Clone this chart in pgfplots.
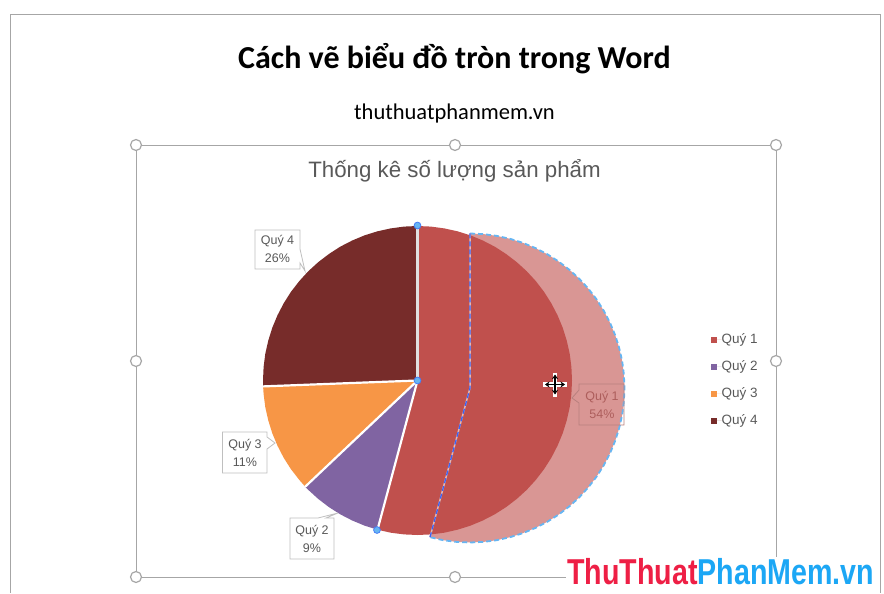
\documentclass[border=0pt]{standalone}
\usepackage{fontspec}
\setmainfont{Liberation Sans}
\newfontfamily\carlito{Carlito}
\usepackage{pgfplots}
\usepackage{pgfplotstable}
\pgfplotsset{compat=1.18}
\usetikzlibrary{arrows.meta}

\definecolor{qone}{HTML}{C0504D}
\definecolor{qtwo}{HTML}{8064A2}
\definecolor{qthree}{HTML}{F79646}
\definecolor{qfour}{HTML}{772C2A}
\definecolor{ghost}{HTML}{D99694}
\definecolor{dashblue}{HTML}{66B5F2}
\definecolor{framegray}{HTML}{A6A6A6}
\definecolor{boxline}{HTML}{BFBFBF}
\definecolor{txt}{HTML}{595959}

% slices in image pixels, y downwards
\pgfplotstableread{
x y
417.5 380.5
417.5 226.0
431.0 226.6
444.3 228.4
457.5 231.3
470.3 235.3
482.8 240.5
494.8 246.7
506.1 254.0
516.8 262.2
526.8 271.3
535.9 281.2
544.1 291.9
551.3 303.3
557.5 315.2
562.7 327.7
566.7 340.5
569.7 353.7
571.4 367.0
572.0 380.5
571.4 394.0
569.7 407.3
566.7 420.5
562.7 433.3
557.5 445.8
551.3 457.8
544.1 469.1
535.9 479.8
526.8 489.8
516.8 498.9
506.1 507.1
494.8 514.3
482.8 520.5
470.3 525.7
457.5 529.7
444.3 532.7
431.0 534.4
417.5 535.0
404.0 534.4
390.7 532.7
377.5 529.7
}\qonedata
\pgfplotstableread{
x y
417.5 380.5
377.5 529.7
364.7 525.7
352.2 520.5
340.2 514.3
328.9 507.1
318.2 498.9
308.2 489.8
305.2 486.7
}\qtwodata
\pgfplotstableread{
x y
417.5 380.5
305.2 486.7
299.2 479.8
290.9 469.1
283.7 457.8
277.5 445.8
272.3 433.3
268.3 420.5
265.3 407.3
263.6 394.0
263.1 386.4
}\qthreedata
\pgfplotstableread{
x y
417.5 380.5
263.1 386.4
263.0 380.5
263.6 367.0
265.3 353.7
268.3 340.5
272.3 327.7
277.5 315.2
283.7 303.3
290.9 291.9
299.2 281.2
308.2 271.3
318.2 262.2
328.9 254.0
340.2 246.7
352.2 240.5
364.7 235.3
377.5 231.3
390.7 228.4
404.0 226.6
417.5 226.0
}\qfourdata
% the dragged copy of Quy 1
\pgfplotstableread{
x y
470.0 233.5
483.5 234.1
496.8 235.9
510.0 238.8
522.8 242.8
535.3 248.0
547.3 254.2
558.6 261.5
569.3 269.7
579.3 278.8
588.4 288.7
596.6 299.4
603.8 310.8
610.0 322.7
615.2 335.2
619.2 348.0
622.2 361.2
623.9 374.5
624.5 388.0
623.9 401.5
622.2 414.8
619.2 428.0
615.2 440.8
610.0 453.3
603.8 465.3
596.6 476.6
588.4 487.3
579.3 497.3
569.3 506.4
558.6 514.6
547.3 521.8
535.3 528.0
522.8 533.2
510.0 537.2
496.8 540.2
483.5 541.9
470.0 542.5
456.5 541.9
443.2 540.2
430.0 537.2
}\ghostdata

\begin{document}
\begin{tikzpicture}
\begin{axis}[
  scale only axis, width=884pt, height=593pt,
  xmin=0, xmax=884, ymin=0, ymax=593, y dir=reverse,
  hide axis, clip=false,
  legend image code/.code={\fill[#1] (0pt,-3pt) rectangle (6pt,3pt); \path (0pt,0pt) -- (11pt,0pt);},
  legend style={at={(axis cs:710.5,333)}, anchor=north west, draw=none, fill=none,
    font=\fontsize{13.5}{14}\selectfont\color{txt},
    row sep=14pt, inner sep=0pt, outer sep=0pt,
    nodes={inner sep=0pt, text height=10pt, text depth=3pt}},
]
\path (0,0) rectangle (884,593);

% page frame and selection frame
\addplot[framegray, line width=1pt, forget plot] coordinates {(10.5,593)(10.5,14.5)(880.5,14.5)(880.5,593)};
\addplot[framegray, line width=.9pt, forget plot] coordinates {(136,145)(776,145)(776,577)(136,577)(136,145)};

% dragged slice below the pie
\addplot[draw=none, fill=ghost, forget plot] table {\ghostdata} -- cycle;
\addplot[dashblue, line width=1.8pt, dash pattern=on 5pt off 3pt, forget plot] table {\ghostdata};

\addplot[draw=none, fill=qone] table {\qonedata} -- cycle;
\addplot[draw=none, fill=qtwo] table {\qtwodata} -- cycle;
\addplot[draw=none, fill=qthree] table {\qthreedata} -- cycle;
\addplot[draw=none, fill=qfour] table {\qfourdata} -- cycle;
\legend{Quý 1,Quý 2,Quý 3,Quý 4}

% white spokes
\addplot[white!88!black, line width=2.4pt, forget plot] coordinates {(417.5,226)(417.5,380.5)};
\addplot[white, line width=2.2pt, forget plot] coordinates {(417.5,380.5)(263.1,386.4)};
\addplot[white, line width=2.2pt, forget plot] coordinates {(417.5,380.5)(305.2,486.7)};
\addplot[white, line width=2.2pt, forget plot] coordinates {(417.5,380.5)(377.5,529.7)};

% straight edges of the dragged slice
\addplot[ghost!70!white, line width=1.5pt, forget plot] coordinates {(470,233.5)(470,388)(430,537.2)};
\addplot[dashblue!55!blue, line width=1.3pt, dash pattern=on 5pt off 3pt, forget plot] coordinates {(470,233.5)(470,388)(430,537.2)};

% data labels
\filldraw[draw=boxline, fill=white, line width=.8pt] (255,230)--(300,230)--(300,249)--(305,271)--(300,263)--(300,269)--(255,269)--cycle;
\node[font=\fontsize{12.5}{18}\selectfont, text=txt, align=center] at (277.5,249) {Quý 4\\26\%};
\filldraw[draw=boxline, fill=white, line width=.8pt] (222.5,432)--(267,432)--(267,437)--(275,443)--(267,449)--(267,473)--(222.5,473)--cycle;
\node[font=\fontsize{12.5}{18}\selectfont, text=txt, align=center] at (245,452.5) {Quý 3\\11\%};
\filldraw[draw=boxline, fill=white, line width=.8pt] (290,518)--(318,518)--(338,513)--(326,518)--(334,518)--(334,559)--(290,559)--cycle;
\node[font=\fontsize{12.5}{18}\selectfont, text=txt, align=center] at (312,538.5) {Quý 2\\9\%};
\draw[draw=ghost!85!black, line width=.8pt] (579,384)--(624,384)--(624,425)--(579,425)--(579,403)--(572,398)--(579,390)--cycle;
\node[font=\fontsize{12.5}{18}\selectfont, text=qone!70!gray, align=center] at (602,405) {Quý 1\\54\%};

% resize handles
\addplot[only marks, mark=*, mark size=5.5pt, mark options={fill=white, draw=framegray, line width=1.2pt}, forget plot]
  coordinates {(136,145)(455,145)(776,145)(136,361)(776,361)(136,577)(455,577)};
\addplot[only marks, mark=*, mark size=3.4pt, mark options={fill=dashblue, draw=dashblue!70!blue, line width=.8pt}, forget plot]
  coordinates {(417.5,225.5)(417.5,380.5)(377,530)};

% move cursor
\draw[white, line width=4.5pt] (543,384.5)--(567,384.5) (555,372.5)--(555,396.5);
\draw[black, line width=1.2pt, {Stealth[length=4.5pt,width=6pt]}-{Stealth[length=4.5pt,width=6pt]}] (545,384.5)--(565,384.5);
\draw[black, line width=1.2pt, {Stealth[length=4.5pt,width=6pt]}-{Stealth[length=4.5pt,width=6pt]}] (555,374.5)--(555,394.5);

% headings
\node[font=\carlito\bfseries\fontsize{32}{34}\selectfont, text=black] at (454.5,58.5) {Cách vẽ biểu đồ tròn trong Word};
\node[font=\carlito\fontsize{22.5}{24}\selectfont, text=black] at (454.5,113.5) {thuthuatphanmem.vn};
\node[font=\fontsize{22.3}{24}\selectfont, text=txt] at (454.5,170.5) {Thống kê số lượng sản phẩm};

% watermark
\fill[white] (566,557) rectangle (878,593);
\node[anchor=base west, inner sep=0pt, font=\bfseries\fontsize{36}{38}\selectfont] at (567,584)
  {\scalebox{.795}[1]{\textcolor[HTML]{EE1F45}{ThuThuat}\textcolor[HTML]{1CA7F5}{PhanMem.vn}}};
\end{axis}
\end{tikzpicture}
\end{document}
